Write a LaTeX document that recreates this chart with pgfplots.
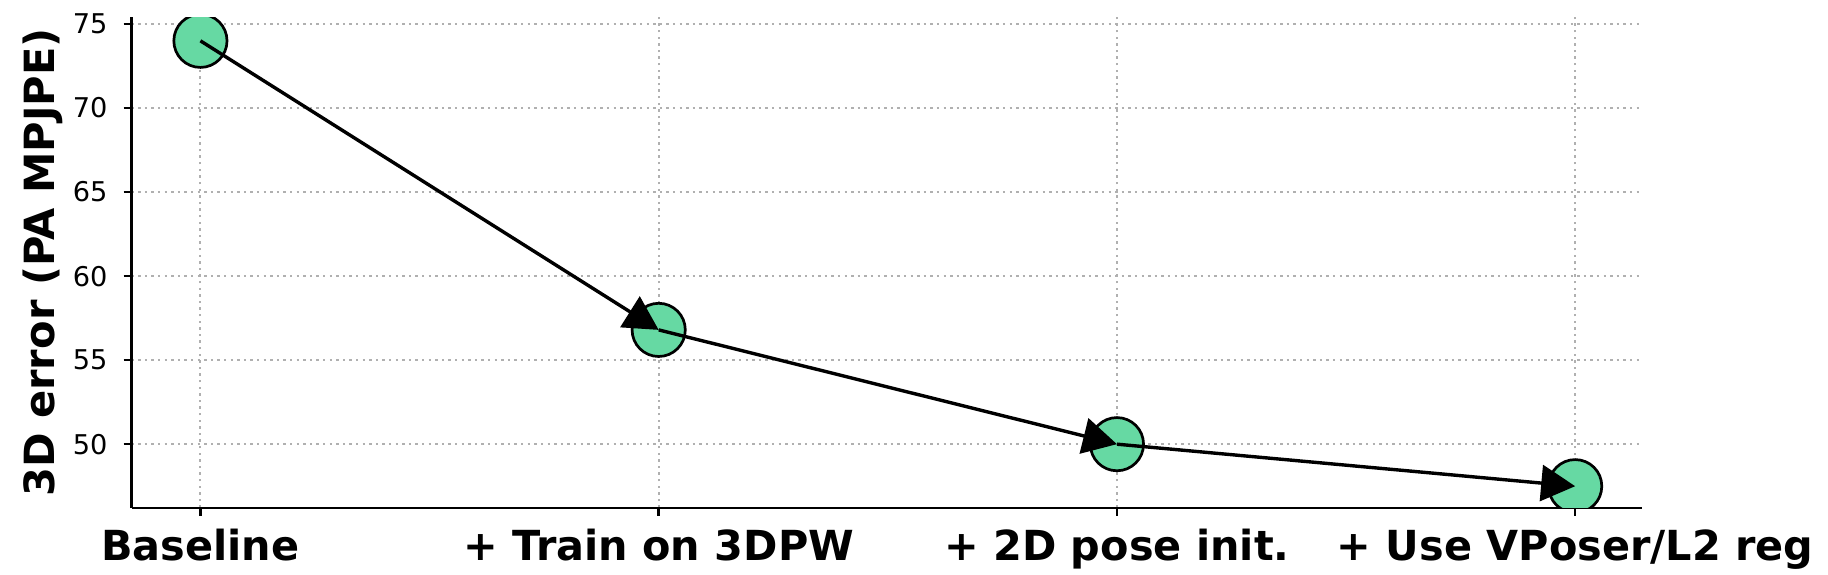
\documentclass[border=0pt]{standalone}
\usepackage{pgfplots}
\pgfplotsset{compat=1.18}
\usepackage{fontspec}
\setmainfont{DejaVu Sans}
\usetikzlibrary{arrows.meta}
\definecolor{mint}{RGB}{102,217,163}
\definecolor{gridgray}{RGB}{176,176,176}
\begin{document}
\begin{tikzpicture}
\path[use as bounding box] (-65.85pt,-33.15pt) rectangle (848.15pt,253.85pt);
\begin{axis}[
  scale only axis,
  width=755.2pt, height=245.2pt,
  xmin=-0.15, xmax=3.146,
  ymin=46.22, ymax=75.4,
  axis lines*=left,
  axis line style={line width=1.2pt, -},
  every tick/.style={line width=1.2pt, black},
  major tick length=4pt,
  tick align=outside,
  tick pos=left,
  xtick={0,1,2,3},
  xticklabels={Baseline,+ Train on 3DPW,+ 2D pose init.,+ Use VPoser/L2 reg},
  ytick={50,55,60,65,70,75},
  grid=major,
  major grid style={gridgray, line width=1pt, dash pattern=on 1.2pt off 2.1pt},
  /pgf/number format/assume math mode=true,
  yticklabel style={font=\fontsize{13.6}{16}\selectfont, xshift=-4.6pt},
  xticklabel style={font=\fontsize{20.7}{24}\selectfont\bfseries, text height=15.7pt, text depth=4pt, yshift=-3.3pt},
  ylabel={3D error (PA MPJPE)},
  every axis y label/.style={at={(axis description cs:-0.05125,0.5)}, rotate=90, anchor=base, font=\fontsize{20.8}{24}\selectfont\bfseries},
  clip=true,
  clip marker paths=true,
]
\addplot[only marks, mark=*, mark size=13.3pt, mark options={fill=mint, draw=black, line width=1.35pt}]
  coordinates {(0,74.0) (1,56.8) (2,50.0) (3,47.5)};
\addplot[black, line width=1.7pt, -{Triangle[length=17pt,width=18pt]}] coordinates {(0,74.0) (1,56.8)};
\addplot[black, line width=1.7pt, -{Triangle[length=17pt,width=18pt]}] coordinates {(1,56.8) (2,50.0)};
\addplot[black, line width=1.7pt, -{Triangle[length=17pt,width=18pt]}] coordinates {(2,50.0) (3,47.5)};
\end{axis}
\end{tikzpicture}
\end{document}
